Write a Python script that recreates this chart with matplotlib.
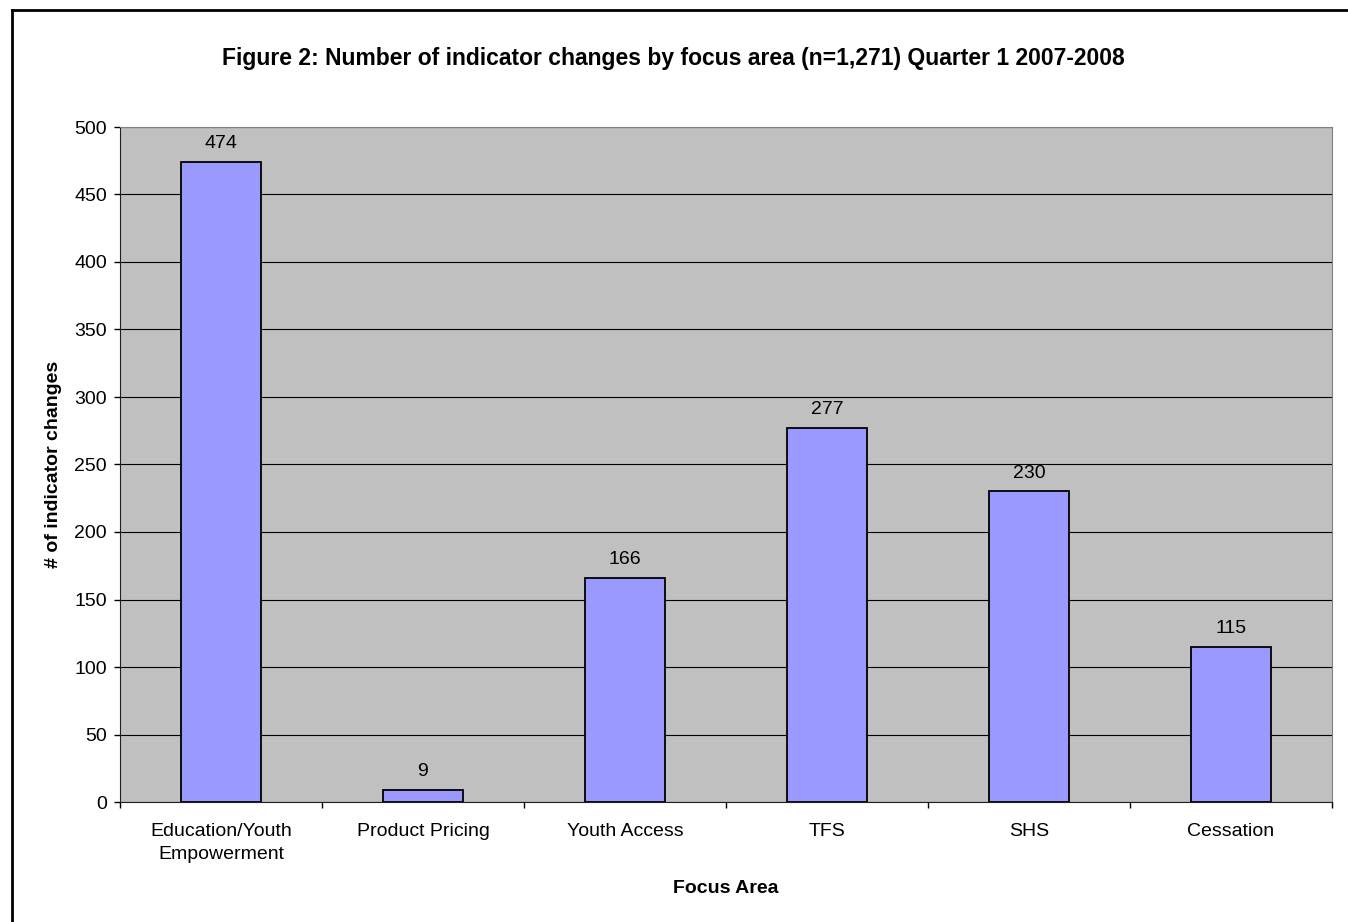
import matplotlib.pyplot as plt
from matplotlib.lines import Line2D
import numpy as np

plt.rcParams['font.family'] = ['Liberation Sans', 'DejaVu Sans']

# focus areas and counts of indicator changes
areas = ['Education/Youth\nEmpowerment', 'Product Pricing', 'Youth Access', 'TFS', 'SHS', 'Cessation']
counts = [474, 9, 166, 277, 230, 115]

W, H = 1348, 922
fig = plt.figure(figsize=(W / 100, H / 100), dpi=100)

# frame edges (left and top) around the chart
fig.lines.append(Line2D([12 / W, 12 / W], [0, 1 - 10 / H], transform=fig.transFigure,
                        color='black', linewidth=2))
fig.lines.append(Line2D([12 / W, 1], [1 - 10 / H, 1 - 10 / H], transform=fig.transFigure,
                        color='black', linewidth=2))

ax = fig.add_axes([120 / W, (H - 802) / H, 1212 / W, 675 / H])
ax.set_facecolor('#C0C0C0')

x = np.arange(len(areas))
ax.bar(x, counts, width=0.4, color='#9999FF', edgecolor='black', linewidth=1.3, zorder=3)
for xi, v in zip(x, counts):
    ax.annotate(str(v), (xi, v), xytext=(0, 7), textcoords='offset points',
                ha='center', va='bottom', fontsize=14)

ax.set_xlim(-0.5, len(areas) - 0.5)
ax.set_ylim(0, 500)
ax.set_yticks(np.arange(0, 501, 50))
ax.yaxis.grid(True, color='black', linewidth=0.8, zorder=1)
ax.set_axisbelow(True)

# category ticks sit between the bars
ax.set_xticks(x)
ax.set_xticklabels(areas, fontsize=14, linespacing=1.5)
ax.tick_params(axis='x', length=0, pad=15)
ax.set_xticks(np.arange(-0.5, len(areas)), minor=True)
ax.tick_params(axis='x', which='minor', length=4.5, color='black', width=1, direction='out')
ax.tick_params(axis='y', length=4.5, width=1, direction='out', labelsize=14, pad=5)

for side in ['top', 'right']:
    ax.spines[side].set_color('#808080')
for side in ['left', 'bottom']:
    ax.spines[side].set_color('#202020')

ax.set_xlabel('Focus Area', fontsize=14, fontweight='bold', va='center')
ax.xaxis.set_label_coords(0.5, (802 - 888) / 675)
ax.set_ylabel('# of indicator changes', fontsize=14, fontweight='bold', va='center')
ax.yaxis.set_label_coords((53 - 120) / 1212, 0.5)
fig.text(673 / W, 1 - 58 / H,
         'Figure 2: Number of indicator changes by focus area (n=1,271) Quarter 1 2007-2008',
         ha='center', va='center', fontsize=16.5, fontweight='bold')

fig.savefig('out.png', dpi=100)
